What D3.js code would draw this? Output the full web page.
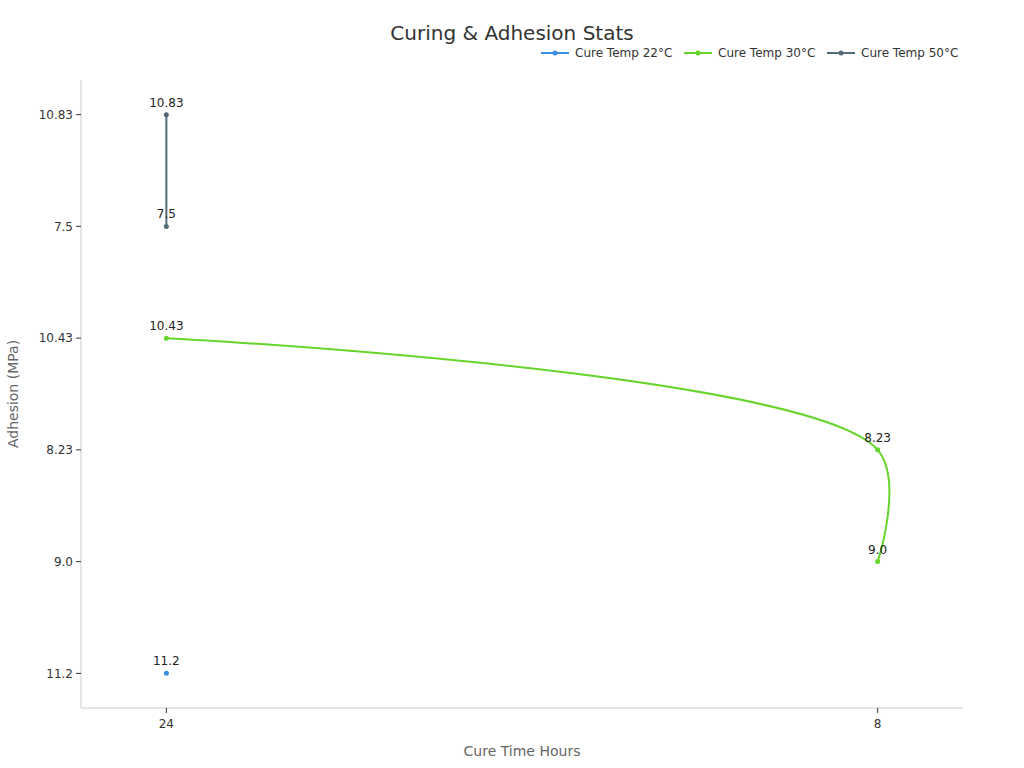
<!DOCTYPE html>
<html lang="en">
<head>
<meta charset="UTF-8">
<title>Curing & Adhesion Stats</title>
<script src="https://d3js.org/d3.v7.min.js"></script>
<style>
  body { margin: 0; background: #fff; }
  text { font-family: "DejaVu Sans", sans-serif; }
</style>
</head>
<body>
<svg width="1024" height="768"></svg>
<script>
// categories as they appear on the axes
const xCats = ["24", "8"]
const yCats = ["11.2", "9.0", "8.23", "10.43", "7.5", "10.83"]

const seriesNames = ["Cure Temp 22°C", "Cure Temp 30°C", "Cure Temp 50°C"]
const seriesColors = ["#3a8ee6", "#67d42c", "#516b78"]
const s22 = [["24", "11.2"]]
const s30 = [["24", "10.43"], ["8", "8.23"], ["8", "9.0"]]
const s50 = [["24", "10.83"], ["24", "7.5"]]
const allSeries = [s22, s30, s50]

let svg = d3.select("svg")
let plotLeft = 81, plotRight = 963, plotTop = 80, plotBottom = 708

let x = d3.scalePoint().domain(xCats).range([plotLeft, plotRight]).padding(0.12)
let y = d3.scalePoint().domain(yCats).range([plotBottom, plotTop]).padding(0.31)

// axes
svg.append("line").attr("x1", plotLeft).attr("x2", plotLeft).attr("y1", plotTop).attr("y2", plotBottom)
  .attr("stroke", "#ccc")
svg.append("line").attr("x1", plotLeft).attr("x2", plotRight).attr("y1", plotBottom).attr("y2", plotBottom)
  .attr("stroke", "#ccc")

yCats.forEach(function (c) {
  svg.append("line").attr("x1", plotLeft - 5).attr("x2", plotLeft).attr("y1", y(c)).attr("y2", y(c)).attr("stroke", "#333")
  svg.append("text").attr("x", plotLeft - 8).attr("y", y(c)).attr("dy", "0.35em")
    .attr("text-anchor", "end").attr("font-size", 12).attr("fill", "#333").text(c)
})
xCats.forEach(function (c) {
  svg.append("line").attr("x1", x(c)).attr("x2", x(c)).attr("y1", plotBottom).attr("y2", plotBottom + 5).attr("stroke", "#333")
  svg.append("text").attr("x", x(c)).attr("y", plotBottom + 20)
    .attr("text-anchor", "middle").attr("font-size", 12).attr("fill", "#333").text(c)
})

svg.append("text").attr("x", 522).attr("y", 756).attr("text-anchor", "middle")
  .attr("font-size", 14).attr("fill", "#666").text("Cure Time Hours")
svg.append("text").attr("transform", "translate(18,394) rotate(-90)").attr("text-anchor", "middle")
  .attr("font-size", 14).attr("fill", "#666").text("Adhesion (MPa)")

svg.append("text").attr("x", 512).attr("y", 40).attr("text-anchor", "middle")
  .attr("font-size", 20).attr("fill", "#333").text("Curing & Adhesion Stats")

// lines and points
let line = d3.line().x(function (d) { return x(d[0]) }).y(function (d) { return y(d[1]) })
  .curve(d3.curveCatmullRom.alpha(0.5))

allSeries.forEach(function (s, i) {
  if (s.length > 1) {
    svg.append("path").datum(s).attr("d", line).attr("fill", "none")
      .attr("stroke", seriesColors[i]).attr("stroke-width", 2)
  }
  s.forEach(function (d) {
    svg.append("circle").attr("cx", x(d[0])).attr("cy", y(d[1])).attr("r", 2.5)
      .attr("fill", seriesColors[i])
    svg.append("text").attr("x", x(d[0])).attr("y", y(d[1]) - 8).attr("text-anchor", "middle")
      .attr("font-size", 12).attr("fill", "#222").text(d[1])
  })
})

// legend
let legendX = [541, 684, 827]
seriesNames.forEach(function (n, i) {
  let g = svg.append("g").attr("transform", `translate(${legendX[i]},53)`)
  g.append("line").attr("x1", 0).attr("x2", 28).attr("stroke", seriesColors[i]).attr("stroke-width", 2)
  g.append("circle").attr("cx", 14).attr("r", 2.5).attr("fill", seriesColors[i])
  g.append("text").attr("x", 34).attr("dy", "0.35em").attr("font-size", 12).attr("fill", "#333").text(n)
})
</script>
</body>
</html>
